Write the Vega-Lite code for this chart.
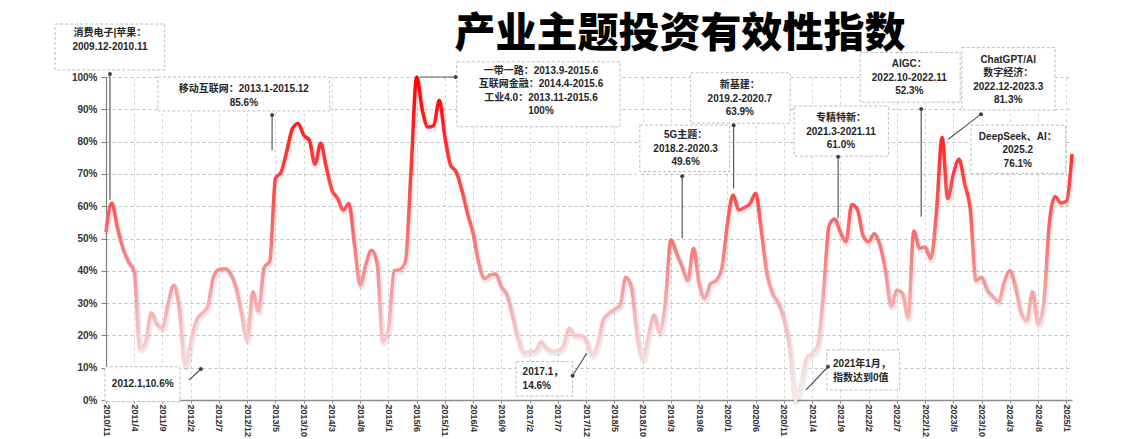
{
  "$schema": "https://vega.github.io/schema/vega-lite/v6.json",
  "width": 966,
  "height": 323,
  "autosize": "none",
  "padding": {"left": 106, "top": 77, "right": 64, "bottom": 39},
  "background": "white",
  "config": {"view": {"stroke": null}},
  "datasets": {
    "series": [
      {"month":"2010/11","i":0,"v":52},{"month":"2010/12","i":1,"v":61},{"month":"2011/1","i":2,"v":53.6},{"month":"2011/2","i":3,"v":47},{"month":"2011/3","i":4,"v":42.8},{"month":"2011/4","i":5,"v":39.7},{"month":"2011/5","i":6,"v":16},{"month":"2011/6","i":7,"v":18},{"month":"2011/7","i":8,"v":27},{"month":"2011/8","i":9,"v":23.5},{"month":"2011/9","i":10,"v":22.4},{"month":"2011/10","i":11,"v":30},{"month":"2011/11","i":12,"v":35.5},{"month":"2011/12","i":13,"v":28},
      {"month":"2012/1","i":14,"v":10.6},{"month":"2012/2","i":15,"v":18},{"month":"2012/3","i":16,"v":24.7},{"month":"2012/4","i":17,"v":26.8},{"month":"2012/5","i":18,"v":28.9},{"month":"2012/6","i":19,"v":38},{"month":"2012/7","i":20,"v":40.4},{"month":"2012/8","i":21,"v":40.6},{"month":"2012/9","i":22,"v":39.2},{"month":"2012/10","i":23,"v":35},{"month":"2012/11","i":24,"v":26.8},{"month":"2012/12","i":25,"v":18.5},
      {"month":"2013/1","i":26,"v":33.5},{"month":"2013/2","i":27,"v":27.5},{"month":"2013/3","i":28,"v":41},{"month":"2013/4","i":29,"v":43},{"month":"2013/5","i":30,"v":68.6},{"month":"2013/6","i":31,"v":70.6},{"month":"2013/7","i":32,"v":77},{"month":"2013/8","i":33,"v":84},{"month":"2013/9","i":34,"v":85.6},{"month":"2013/10","i":35,"v":82},{"month":"2013/11","i":36,"v":80.4},{"month":"2013/12","i":37,"v":73},
      {"month":"2014/1","i":38,"v":79.5},{"month":"2014/2","i":39,"v":72},{"month":"2014/3","i":40,"v":65},{"month":"2014/4","i":41,"v":62.4},{"month":"2014/5","i":42,"v":58.8},{"month":"2014/6","i":43,"v":60.8},{"month":"2014/7","i":44,"v":48},{"month":"2014/8","i":45,"v":35.6},{"month":"2014/9","i":46,"v":42},{"month":"2014/10","i":47,"v":46.4},{"month":"2014/11","i":48,"v":42.3},{"month":"2014/12","i":49,"v":18},
      {"month":"2015/1","i":50,"v":22},{"month":"2015/2","i":51,"v":40},{"month":"2015/3","i":52,"v":40.4},{"month":"2015/4","i":53,"v":42.8},{"month":"2015/5","i":54,"v":71},{"month":"2015/6","i":55,"v":100},{"month":"2015/7","i":56,"v":89.7},{"month":"2015/8","i":57,"v":84.5},{"month":"2015/9","i":58,"v":85},{"month":"2015/10","i":59,"v":92.8},{"month":"2015/11","i":60,"v":81.4},{"month":"2015/12","i":61,"v":72.7},
      {"month":"2016/1","i":62,"v":70.6},{"month":"2016/2","i":63,"v":65},{"month":"2016/3","i":64,"v":57.7},{"month":"2016/4","i":65,"v":51.5},{"month":"2016/5","i":66,"v":42.3},{"month":"2016/6","i":67,"v":37.6},{"month":"2016/7","i":68,"v":38.7},{"month":"2016/8","i":69,"v":39},{"month":"2016/9","i":70,"v":35},{"month":"2016/10","i":71,"v":32.5},{"month":"2016/11","i":72,"v":25.8},{"month":"2016/12","i":73,"v":18.6},
      {"month":"2017/1","i":74,"v":14.6},{"month":"2017/2","i":75,"v":15},{"month":"2017/3","i":76,"v":15.2},{"month":"2017/4","i":77,"v":18},{"month":"2017/5","i":78,"v":16},{"month":"2017/6","i":79,"v":15.2},{"month":"2017/7","i":80,"v":15.2},{"month":"2017/8","i":81,"v":17},{"month":"2017/9","i":82,"v":22.2},{"month":"2017/10","i":83,"v":20},{"month":"2017/11","i":84,"v":20},{"month":"2017/12","i":85,"v":18.5},
      {"month":"2018/1","i":86,"v":14},{"month":"2018/2","i":87,"v":17},{"month":"2018/3","i":88,"v":24.7},{"month":"2018/4","i":89,"v":26.8},{"month":"2018/5","i":90,"v":28},{"month":"2018/6","i":91,"v":29.4},{"month":"2018/7","i":92,"v":38},{"month":"2018/8","i":93,"v":35},{"month":"2018/9","i":94,"v":20.6},{"month":"2018/10","i":95,"v":12.6},{"month":"2018/11","i":96,"v":19.6},{"month":"2018/12","i":97,"v":26.3},
      {"month":"2019/1","i":98,"v":21},{"month":"2019/2","i":99,"v":30},{"month":"2019/3","i":100,"v":49.6},{"month":"2019/4","i":101,"v":45.4},{"month":"2019/5","i":102,"v":41.2},{"month":"2019/6","i":103,"v":37},{"month":"2019/7","i":104,"v":47},{"month":"2019/8","i":105,"v":36},{"month":"2019/9","i":106,"v":31.4},{"month":"2019/10","i":107,"v":36},{"month":"2019/11","i":108,"v":37},{"month":"2019/12","i":109,"v":40.7},
      {"month":"2020/1","i":110,"v":54.6},{"month":"2020/2","i":111,"v":63.5},{"month":"2020/3","i":112,"v":58.8},{"month":"2020/4","i":113,"v":59.6},{"month":"2020/5","i":114,"v":60.8},{"month":"2020/6","i":115,"v":64},{"month":"2020/7","i":116,"v":52.6},{"month":"2020/8","i":117,"v":39.2},{"month":"2020/9","i":118,"v":33},{"month":"2020/10","i":119,"v":30},{"month":"2020/11","i":120,"v":25.3},{"month":"2020/12","i":121,"v":16.5},
      {"month":"2021/1","i":122,"v":0},{"month":"2021/2","i":123,"v":5},{"month":"2021/3","i":124,"v":13},{"month":"2021/4","i":125,"v":14.5},{"month":"2021/5","i":126,"v":17},{"month":"2021/6","i":127,"v":33},{"month":"2021/7","i":128,"v":54},{"month":"2021/8","i":129,"v":56},{"month":"2021/9","i":130,"v":52},{"month":"2021/10","i":131,"v":49},{"month":"2021/11","i":132,"v":60.5},{"month":"2021/12","i":133,"v":59},
      {"month":"2022/1","i":134,"v":51},{"month":"2022/2","i":135,"v":49},{"month":"2022/3","i":136,"v":51.5},{"month":"2022/4","i":137,"v":48},{"month":"2022/5","i":138,"v":40},{"month":"2022/6","i":139,"v":29},{"month":"2022/7","i":140,"v":34},{"month":"2022/8","i":141,"v":33},{"month":"2022/9","i":142,"v":25.5},{"month":"2022/10","i":143,"v":52.3},{"month":"2022/11","i":144,"v":47},{"month":"2022/12","i":145,"v":47.4},
      {"month":"2023/1","i":146,"v":43.8},{"month":"2023/2","i":147,"v":58},{"month":"2023/3","i":148,"v":81.3},{"month":"2023/4","i":149,"v":62.4},{"month":"2023/5","i":150,"v":70},{"month":"2023/6","i":151,"v":74.5},{"month":"2023/7","i":152,"v":67},{"month":"2023/8","i":153,"v":59},{"month":"2023/9","i":154,"v":37},{"month":"2023/10","i":155,"v":38},{"month":"2023/11","i":156,"v":34},{"month":"2023/12","i":157,"v":32},
      {"month":"2024/1","i":158,"v":30.4},{"month":"2024/2","i":159,"v":36.5},{"month":"2024/3","i":160,"v":40},{"month":"2024/4","i":161,"v":35},{"month":"2024/5","i":162,"v":27},{"month":"2024/6","i":163,"v":24.5},{"month":"2024/7","i":164,"v":33.5},{"month":"2024/8","i":165,"v":23.5},{"month":"2024/9","i":166,"v":30},{"month":"2024/10","i":167,"v":55},{"month":"2024/11","i":168,"v":63},{"month":"2024/12","i":169,"v":61},
      {"month":"2025/1","i":170,"v":61.5},{"month":"2025/2","i":171,"v":76.1}
    ],
    "heading": [
      {"i":101.6,"v":109.3,"text":"产业主题投资有效性指数"}
    ],
    "boxes": [
      {"i0":-9.0,"i1":10.4,"vt":116.4,"vb":102.2},
      {"i0":9.2,"i1":39.6,"vt":100,"vb":89.5},
      {"i0":62.1,"i1":91.0,"vt":104.7,"vb":84.6},
      {"i0":94.5,"i1":110.4,"vt":85.1,"vb":70.7},
      {"i0":103.5,"i1":121.1,"vt":101.3,"vb":85.7},
      {"i0":121.8,"i1":138.5,"vt":91.0,"vb":75.5},
      {"i0":133.5,"i1":151.2,"vt":107.6,"vb":92.2},
      {"i0":151.5,"i1":168.0,"vt":109.1,"vb":89.8},
      {"i0":153.1,"i1":169.9,"vt":85.1,"vb":70.2},
      {"i0":-0.2,"i1":13.1,"vt":10.3,"vb":-0.5},
      {"i0":72.6,"i1":82.6,"vt":11.9,"vb":1.2},
      {"i0":127.6,"i1":140.5,"vt":15.5,"vb":3.1}
    ],
    "notesCenter": [
      {"i":0.7,"v":113.6,"text":["消费电子|苹果：","2009.12-2010.11"]},
      {"i":24.4,"v":96.2,"text":["移动互联网：2013.1-2015.12","85.6%"]},
      {"i":77.0,"v":101.9,"text":["一带一路：2013.9-2015.6","互联网金融：2014.4-2015.6","工业4.0：2013.11-2015.6","100%"]},
      {"i":102.6,"v":82.0,"text":["5G主题：","2018.2-2020.3","49.6%"]},
      {"i":112.2,"v":97.5,"text":["新基建：","2019.2-2020.7","63.9%"]},
      {"i":130.1,"v":87.2,"text":["专精特新：","2021.3-2021.11","61.0%"]},
      {"i":142.2,"v":104.0,"text":["AIGC：","2022.10-2022.11","52.3%"]},
      {"i":159.7,"v":105.3,"text":["ChatGPT/AI","数字经济：","2022.12-2023.3","81.3%"]},
      {"i":161.4,"v":81.5,"text":["DeepSeek、AI：","2025.2","76.1%"]},
      {"i":6.5,"v":4.9,"text":["2012.1,10.6%"]}
    ],
    "notesLeft": [
      {"i":73.75,"v":8.6,"text":["2017.1，","14.6%"]},
      {"i":128.7,"v":11.1,"text":["2021年1月，","指数达到0值"]}
    ],
    "leaders": [
      {"i0":0.7,"v0":100.9,"i1":0.7,"v1":62},
      {"i0":29.4,"v0":88.2,"i1":29.4,"v1":77.4},
      {"i0":61.9,"v0":100,"i1":55.6,"v1":100},
      {"i0":102.0,"v0":69.3,"i1":102.0,"v1":50.1},
      {"i0":111.1,"v0":85.1,"i1":111.1,"v1":65.5},
      {"i0":129.6,"v0":75.3,"i1":129.6,"v1":56.3},
      {"i0":144.3,"v0":90.1,"i1":144.3,"v1":56.7},
      {"i0":154.9,"v0":88.5,"i1":149.1,"v1":80.7},
      {"i0":16.8,"v0":9.6,"i1":14.7,"v1":6.2},
      {"i0":82.6,"v0":7.5,"i1":85.1,"v1":14.5},
      {"i0":127.8,"v0":10.3,"i1":123.9,"v1":3.1}
    ]
  },
  "layer": [
    {
      "data": {"name": "series"},
      "mark": {"type": "line", "interpolate": "monotone", "strokeWidth": 6, "color": "#000000", "opacity": 0.08, "xOffset": 1, "yOffset": 2},
      "encoding": {
        "x": {"field": "i", "type": "quantitative", "scale": {"domain": [0, 171], "nice": false, "zero": false},
          "axis": {"values": [0,5,10,15,20,25,30,35,40,45,50,55,60,65,70,75,80,85,90,95,100,105,110,115,120,125,130,135,140,145,150,155,160,165,170],
            "tickCount": 60,
            "labelExpr": "(2010 + floor((datum.value + 10) / 12)) + '/' + ((datum.value + 10) % 12 + 1)",
            "labelAngle": 90, "labelAlign": "left", "labelBaseline": "middle", "labelFont": "Liberation Sans", "labelFontWeight": "bold", "labelFontSize": 9, "labelColor": "#333333", "labelPadding": 1,
            "grid": true, "gridDash": [3, 3], "gridColor": "#d4d4d4", "gridWidth": 1,
            "domainColor": "#8c8c8c", "domainWidth": 1.5, "tickColor": "#8c8c8c", "tickSize": 3, "title": null, "labelOverlap": false}},
        "y": {"field": "v", "type": "quantitative", "scale": {"domain": [0, 100], "nice": false},
          "axis": {"values": [0,10,20,30,40,50,60,70,80,90,100], "tickCount": 20, "labelExpr": "datum.value + '%'", "labelFont": "Liberation Sans", "labelFontWeight": "bold", "labelFontSize": 10, "labelColor": "#333333", "labelPadding": 4,
            "grid": true, "gridDash": [3, 3], "gridColor": "#bfbfbf", "gridWidth": 1,
            "domainColor": "#7f7f7f", "domainWidth": 1.2, "tickColor": "#7f7f7f", "tickSize": 5, "title": null}}
      }
    },
    {
      "data": {"name": "series"},
      "mark": {"type": "line", "interpolate": "monotone", "strokeWidth": 3.5,
        "color": {"gradient": "linear", "x1": 0, "y1": 1, "x2": 0, "y2": 0,
          "stops": [
            {"offset": 0, "color": "#fde9e9"},
            {"offset": 0.15, "color": "#fad0d0"},
            {"offset": 0.3, "color": "#f6aaaa"},
            {"offset": 0.45, "color": "#f68080"},
            {"offset": 0.6, "color": "#fb5555"},
            {"offset": 0.8, "color": "#ff2a2a"},
            {"offset": 1, "color": "#ff0000"}
          ]}},
      "encoding": {
        "x": {"field": "i", "type": "quantitative"},
        "y": {"field": "v", "type": "quantitative"}
      }
    },
    {
      "data": {"name": "boxes"},
      "mark": {"type": "rect", "fill": "#ffffff", "stroke": "#bdbdbd", "strokeDash": [3, 2], "strokeWidth": 1},
      "encoding": {
        "x": {"field": "i0", "type": "quantitative"},
        "x2": {"field": "i1"},
        "y": {"field": "vt", "type": "quantitative"},
        "y2": {"field": "vb"}
      }
    },
    {
      "data": {"name": "heading"},
      "mark": {"type": "text", "align": "center", "baseline": "alphabetic", "font": "Noto Sans CJK SC", "fontWeight": 900, "fontSize": 41, "color": "#000000"},
      "encoding": {
        "x": {"field": "i", "type": "quantitative"},
        "y": {"field": "v", "type": "quantitative"},
        "text": {"field": "text"}
      }
    },
    {
      "data": {"name": "notesCenter"},
      "mark": {"type": "text", "align": "center", "baseline": "middle", "font": "Liberation Sans, Noto Sans CJK SC", "fontWeight": "bold", "fontSize": 10, "lineHeight": 13.5, "color": "#262626"},
      "encoding": {
        "x": {"field": "i", "type": "quantitative"},
        "y": {"field": "v", "type": "quantitative"},
        "text": {"field": "text"}
      }
    },
    {
      "data": {"name": "notesLeft"},
      "mark": {"type": "text", "align": "left", "baseline": "middle", "font": "Liberation Sans, Noto Sans CJK SC", "fontWeight": "bold", "fontSize": 10, "lineHeight": 13.5, "color": "#262626"},
      "encoding": {
        "x": {"field": "i", "type": "quantitative"},
        "y": {"field": "v", "type": "quantitative"},
        "text": {"field": "text"}
      }
    },
    {
      "data": {"name": "leaders"},
      "mark": {"type": "rule", "color": "#595959", "strokeWidth": 1.2},
      "encoding": {
        "x": {"field": "i0", "type": "quantitative"},
        "x2": {"field": "i1"},
        "y": {"field": "v0", "type": "quantitative"},
        "y2": {"field": "v1"}
      }
    },
    {
      "data": {"name": "leaders"},
      "mark": {"type": "point", "filled": true, "color": "#404040", "size": 16, "opacity": 1},
      "encoding": {
        "x": {"field": "i0", "type": "quantitative"},
        "y": {"field": "v0", "type": "quantitative"}
      }
    }
  ]
}
